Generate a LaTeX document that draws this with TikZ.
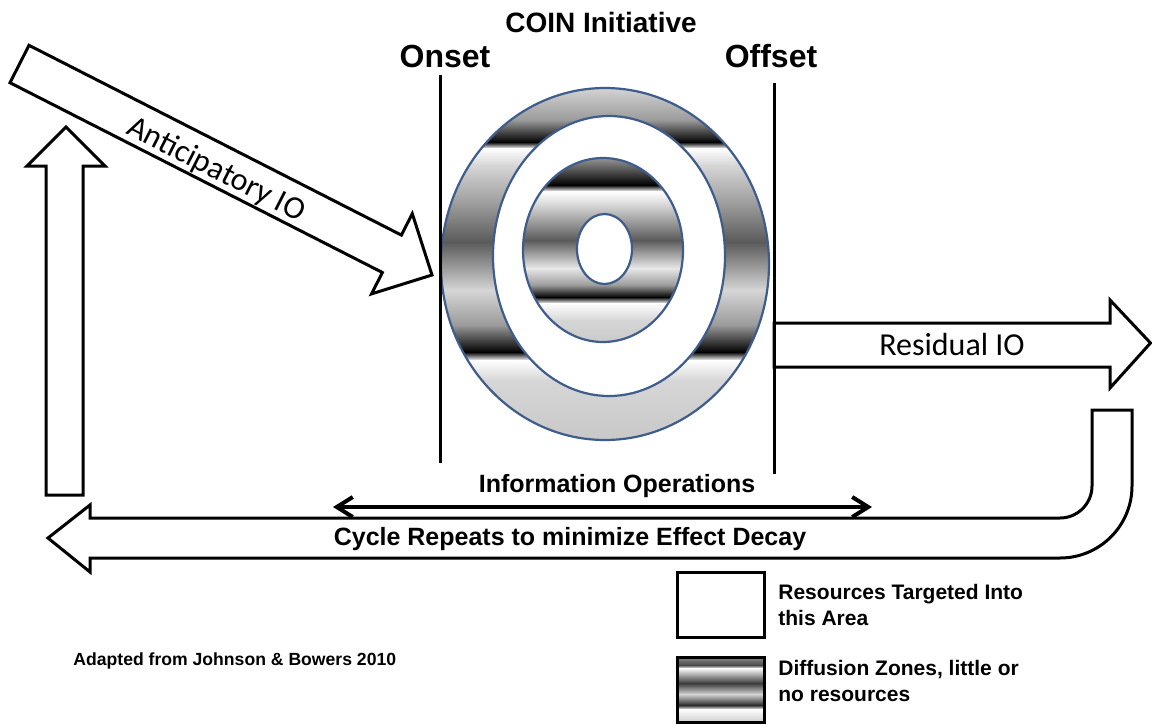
\documentclass[tikz,border=0pt]{standalone}
\usepackage{fontspec}
\setmainfont{Liberation Sans}
\newfontfamily\calibrifont{Carlito}
\usetikzlibrary{arrows.meta}
\definecolor{ringblue}{RGB}{62,92,140}
\definecolor{gA}{HTML}{9A9A9A}
\definecolor{gMid}{HTML}{5A5A5A}
\definecolor{gLight}{HTML}{D6D6D6}
\definecolor{gPale}{HTML}{E8E8E8}
\definecolor{gBot}{HTML}{C8C8C8}
\definecolor{gTop}{HTML}{A0A0A0}
\begin{document}
\begin{tikzpicture}[x=0.5pt,y=-0.5pt,
  blockarrow/.style={draw=black, line width=1.5pt, fill=white, line join=miter},
  band/.style 2 args={top color=#1, bottom color=#2, draw=none},
  ring/.style={draw=ringblue, line width=1.1pt},
  vline/.style={draw=black, line width=1.5pt},
  boldlabel/.style={font=\bfseries\fontsize{12.5}{15}\selectfont, inner sep=0pt},
  bigbold/.style={font=\bfseries\fontsize{16}{19}\selectfont, inner sep=0pt},
  callabel/.style={font=\calibrifont\fontsize{16}{19}\selectfont, inner sep=0pt},
  legendtext/.style={font=\bfseries\fontsize{10.5}{13}\selectfont, align=left, inner sep=0pt, anchor=west}]
\useasboundingbox (0,0) rectangle (1152,724);
\fill[white] (0,0) rectangle (1152,724);

% ---------- rings ----------
\begin{scope}
  \clip (605,264) ellipse [x radius=164, y radius=176];
  \shade[band={gLight}{gA}]    (430,86)  rectangle (790,120.5);
  \shade[band={gA}{black}]     (430,120) rectangle (790,142.5);
  \shade[band={black}{white}]  (430,142) rectangle (790,148.5);
  \shade[band={white}{gLight}] (430,148) rectangle (790,165.5);
  \shade[band={gLight}{gA}]    (430,165) rectangle (790,205.5);
  \shade[band={gA}{gMid}]      (430,205) rectangle (790,242.5);
  \shade[band={gMid}{gLight}]  (430,242) rectangle (790,290.5);
  \shade[band={gLight}{gA}]    (430,290) rectangle (790,325.5);
  \shade[band={gA}{black}]     (430,325) rectangle (790,352.5);
  \shade[band={black}{white}]  (430,352) rectangle (790,360.5);
  \shade[band={white}{gLight}] (430,360) rectangle (790,380.5);
  \shade[band={gLight}{gBot}]  (430,380) rectangle (790,442);
\end{scope}
\fill[white] (609,256) ellipse [x radius=116, y radius=140];
\begin{scope}
  \clip (603,250) ellipse [x radius=80, y radius=92];
  \shade[band={gTop}{black}]   (520,156) rectangle (690,185.5);
  \shade[band={black}{white}]  (520,185) rectangle (690,191.5);
  \shade[band={white}{gLight}] (520,191) rectangle (690,205.5);
  \shade[band={gLight}{gMid}]  (520,205) rectangle (690,240.5);
  \shade[band={gMid}{gPale}]   (520,240) rectangle (690,268.5);
  \shade[band={gPale}{gA}]     (520,268) rectangle (690,285.5);
  \shade[band={gA}{black}]     (520,285) rectangle (690,297.5);
  \shade[band={black}{white}]  (520,297) rectangle (690,303.5);
  \shade[band={white}{gLight}] (520,303) rectangle (690,320.5);
  \shade[band={gLight}{gBot}]  (520,320) rectangle (690,345);
\end{scope}
\fill[white] (604.5,249) ellipse [x radius=27.5, y radius=35];
\draw[ring] (605,264) ellipse [x radius=164, y radius=176];
\draw[ring] (609,256) ellipse [x radius=116, y radius=140];
\draw[ring] (603,250) ellipse [x radius=80, y radius=92];
\draw[ring] (604.5,249) ellipse [x radius=27.5, y radius=35];

% ---------- block arrows ----------
% Anticipatory IO
\draw[blockarrow] (29,45.3) -- (401.4,235.1) -- (412.3,213.7) -- (432,275)
  -- (371.5,293.9) -- (382.4,272.5) -- (10,82.7) -- cycle;
\node[callabel, rotate=-27] (antic) at (216,170) {Anticipatory IO};

% up arrow
\draw[blockarrow] (46,495) -- (46,166) -- (27,166) -- (66,127) -- (105,166)
  -- (83,166) -- (83,495) -- cycle;

% Residual IO
\draw[blockarrow] (774,323) -- (1110,323) -- (1110,300) -- (1150.5,343)
  -- (1110,388) -- (1110,367) -- (774,367) -- cycle;
\node[callabel] (resid) at (952,345) {Residual IO};

% Cycle repeats bent arrow
\draw[blockarrow] (48,538) -- (90,505) -- (90,518) -- (1060,518)
  arc[start angle=90, end angle=0, radius=32] -- (1092,410) -- (1132,410)
  -- (1132,486) arc[start angle=0, end angle=90, radius=72]
  -- (90,558) -- (90,572) -- cycle;
\node[boldlabel] (cycle) at (570,539) {Cycle Repeats to minimize Effect Decay};

% ---------- onset / offset lines ----------
\coordinate (onT) at (440,75);  \coordinate (onB) at (440,463);
\coordinate (offT) at (774,83); \coordinate (offB) at (774,474);
\draw[vline] (onT) -- (onB);
\draw[vline] (offT) -- (offB);

\node[font=\bfseries\fontsize{14}{17}\selectfont, inner sep=0pt] (coin) at (601,22) {COIN Initiative};
\node[bigbold] (onset) at (445,56) {Onset};
\node[bigbold] (offset) at (771,56) {Offset};

% ---------- information operations ----------
\coordinate (ioL) at (333,507);
\coordinate (ioR) at (872,507);
\draw[line width=2pt, {Straight Barb[length=8pt,width=10pt,line width=2pt]}-{Straight Barb[length=8pt,width=10pt,line width=2pt]}] (ioL) -- (ioR);
\node[boldlabel] (info) at (617,486) {Information Operations};

% ---------- legend ----------
\draw[line width=1.5pt, fill=white] (677,572) rectangle (764,637);
\begin{scope}
  \clip (677,657) rectangle (764,722);
  \shade[band={gA}{gMid!80!black}] (670,655) rectangle (770,665.5);
  \shade[band={gMid!80!black}{white}] (670,665) rectangle (770,668.5);
  \shade[band={white}{gMid!120!white}] (670,668) rectangle (770,683.5);
  \shade[band={gMid!120!white}{gLight}] (670,683) rectangle (770,694.5);
  \shade[band={gLight}{black!85}] (670,694) rectangle (770,705.5);
  \shade[band={black!85}{white}] (670,705) rectangle (770,709.5);
  \shade[band={white}{gBot}] (670,709) rectangle (770,724);
\end{scope}
\draw[line width=1.5pt] (677,657) rectangle (764,722);
\node[legendtext] (leg1) at (778,605) {Resources Targeted Into\\this Area};
\node[legendtext] (leg2) at (778,681) {Diffusion Zones, little or\\no resources};

\node[font=\bfseries\fontsize{8.8}{11}\selectfont, inner sep=0pt, anchor=west] (adapted) at (73,661) {Adapted from Johnson \& Bowers 2010};
\end{tikzpicture}
\end{document}
